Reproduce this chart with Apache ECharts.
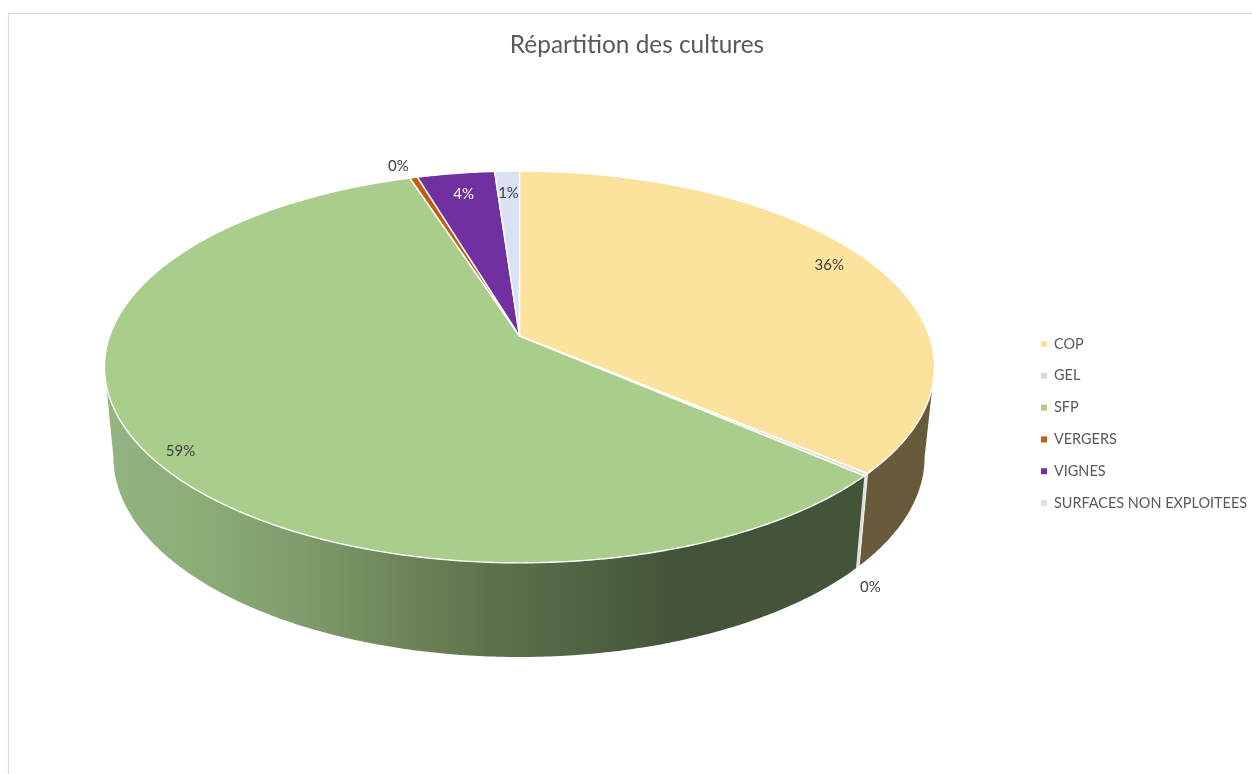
<!DOCTYPE html>
<html>
<head>
<meta charset="utf-8">
<title>Répartition des cultures</title>
<style>html,body{margin:0;padding:0;background:#fff}#chart{width:1252px;height:774px}</style>
<script src="https://cdn.jsdelivr.net/npm/echarts@6/dist/echarts.min.js"></script>
</head>
<body>
<div id="chart"></div>
<script>
// Surface share of each crop type, in percent of the total area
const categories = ['COP', 'GEL', 'SFP', 'VERGERS', 'VIGNES', 'SURFACES NON EXPLOITEES'];
const values = [36.2, 0.2, 58.62, 0.35, 3.51, 1.12];

const topColors = ['#FBE29D', '#D9D9D9', '#A9CE8B', '#C55A11', '#7030A0', '#D9E1F2'];
const labelColors = ['#404040', '#404040', '#404040', '#404040', '#FFFFFF', '#404040'];
// Distance of each percentage from the pie centre, as a fraction of the radius
const labelRadius = [0.9, 1.065, 0.925, 1.09, 0.86, 0.865];
// The thin GEL label hangs below the rim, so it is placed on the lower disc
const labelOnBase = [false, true, false, false, false, false];
// Small nudges, in pixels, that keep each percentage clear of the slice edges
const labelNudge = [[-6, -3], [-12, 10], [5, 9], [-7, 1], [0, 1], [0, 2]];

// Perspective disc: a circle tilted away from the viewer
const tilt = 0.158;
const topDisc = { cx: 519.5, cy: 336, a: 409.8, b: 191 };
const baseDisc = { cx: 519, cy: 425.4, a: 400.5, b: 195 };

function project(disc, angle, r) {
  const u = r * Math.sin(angle);
  const v = r * Math.cos(angle);
  const w = 1 + tilt * v;
  return [disc.cx + disc.a * u / w, disc.cy - disc.b * v / w];
}

function arc(disc, from, to) {
  const steps = Math.max(2, Math.ceil(Math.abs(to - from) / 0.01));
  const pts = [];
  for (let i = 0; i <= steps; i++) {
    pts.push(project(disc, from + (to - from) * i / steps, 1));
  }
  return pts;
}

const total = values.reduce((s, v) => s + v, 0);
const starts = [];
values.reduce((sum, v, i) => { starts[i] = sum; return sum + v; }, 0);
const toAngle = (share) => share / total * Math.PI * 2;

// Only the part of the rim facing the viewer is visible
const rimFrom = Math.acos(-tilt);
const rimTo = Math.PI * 2 - rimFrom;

function wallFill(i) {
  if (i === 0) return '#675B3B';
  if (i === 1) return '#DEDEDE';
  const x0 = 105, x1 = 860;
  const at = (x) => (x - x0) / (x1 - x0);
  return new echarts.graphic.LinearGradient(x0, 0, x1, 0, [
    { offset: 0, color: '#94B482' },
    { offset: at(200), color: '#8BAD75' },
    { offset: at(300), color: '#7F9C6C' },
    { offset: at(400), color: '#6E8558' },
    { offset: at(500), color: '#5C714A' },
    { offset: at(600), color: '#4E6142' },
    { offset: at(675), color: '#435338' },
    { offset: 1, color: '#435439' }
  ], true);
}

function renderSlice(i) {
  return function () {
    const from = toAngle(starts[i]);
    const to = toAngle(starts[i] + values[i]);
    const children = [];

    const wallFrom = Math.max(from, rimFrom);
    const wallTo = Math.min(to, rimTo);
    if (wallTo > wallFrom) {
      children.push({
        type: 'polygon',
        z2: 1,
        shape: { points: arc(topDisc, wallFrom, wallTo).concat(arc(baseDisc, wallTo, wallFrom)) },
        style: { fill: wallFill(i), stroke: i === 1 ? '#F2F2F2' : null, lineWidth: i === 1 ? 1 : 0 }
      });
    }

    children.push({
      type: 'polygon',
      z2: 2,
      shape: { points: [[topDisc.cx, topDisc.cy]].concat(arc(topDisc, from, to)) },
      style: { fill: topColors[i], stroke: '#FFFFFF', lineWidth: 1.4, lineJoin: 'round' }
    });

    const mid = (from + to) / 2;
    const pos = project(labelOnBase[i] ? baseDisc : topDisc, mid, labelRadius[i]);
    children.push({
      type: 'text',
      z2: 3,
      x: pos[0] + labelNudge[i][0],
      y: pos[1] + labelNudge[i][1],
      style: {
        text: Math.round(values[i] / total * 100) + '%',
        fill: labelColors[i],
        font: '15px Lato',
        align: 'center',
        verticalAlign: 'middle'
      }
    });
    return { type: 'group', children };
  };
}

const chart = echarts.init(document.getElementById('chart'), null, { renderer: 'canvas' });
chart.setOption({
  animation: false,
  backgroundColor: '#FFFFFF',
  title: {
    text: 'Répartition des cultures',
    left: 632,
    top: 28,
    textAlign: 'center',
    textStyle: { fontFamily: 'Lato', fontWeight: 'normal', fontSize: 24.4, color: '#595959' }
  },
  legend: {
    orient: 'vertical',
    left: 1041,
    top: 336,
    padding: 0,
    icon: 'rect',
    itemWidth: 6,
    itemHeight: 6,
    itemGap: 15.8,
    data: categories,
    textStyle: { fontFamily: 'Lato', fontSize: 14.45, color: '#595959', padding: [0, 0, 0, 2], lineHeight: 16 }
  },
  graphic: [{
    type: 'polyline',
    silent: true,
    shape: { points: [[8.5, 800], [8.5, 13.5], [1300, 13.5]] },
    style: { fill: null, stroke: '#D9D9D9', lineWidth: 1.2 }
  }],
  series: categories.map((name, i) => ({
    type: 'custom',
    name,
    coordinateSystem: 'none',
    silent: true,
    itemStyle: { color: topColors[i] },
    data: [[values[i]]],
    renderItem: renderSlice(i)
  }))
});
</script>
</body>
</html>
